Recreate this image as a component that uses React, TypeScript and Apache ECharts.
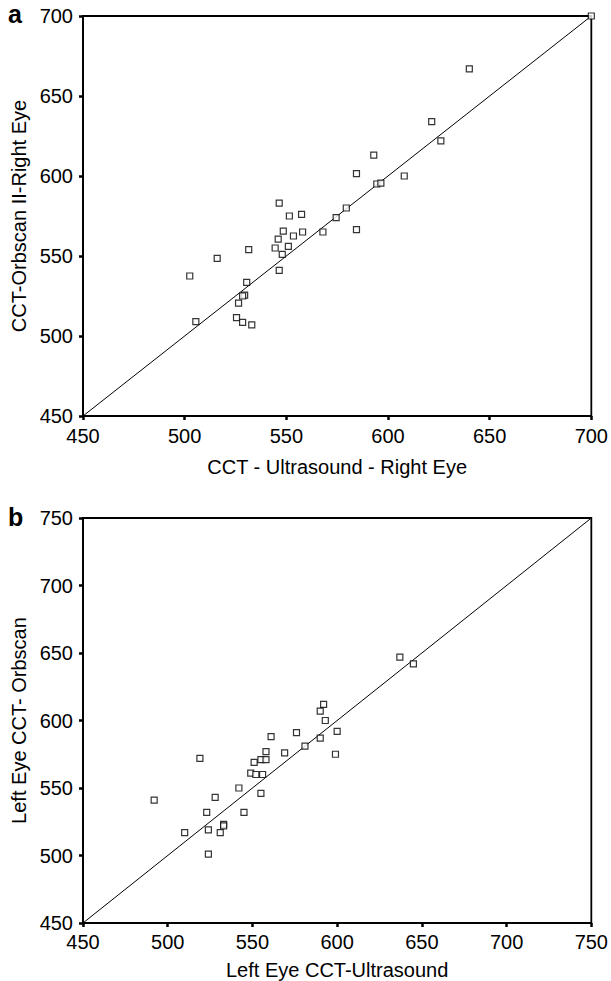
import React, { useEffect, useRef } from "react";
import * as echarts from "echarts";

// Panel a: right eye (ultrasound CCT, Orbscan II CCT)
const rightUltrasound = [700, 640, 621.5, 626, 593, 584.5, 608, 594.5, 596.5, 546.5, 551.5, 557.5, 579.5, 574.5, 548.5, 558, 568, 584.5, 546, 553.5, 544.5, 551, 531.5, 548, 546.5, 530.5, 529.5, 528.5, 526.5, 502.5, 505.5, 525.5, 528.5, 533, 516];
const rightOrbscan = [700, 667, 634, 622, 613, 601.5, 600, 595, 595.5, 583, 575, 576, 580, 574, 565.5, 565, 565, 566.5, 560.5, 562.5, 555, 556, 554, 551, 541, 533.5, 525.5, 525, 520.5, 537.5, 509, 511.5, 508.5, 507, 548.5];

// Panel b: left eye (ultrasound CCT, Orbscan CCT)
const leftUltrasound = [637, 645, 592, 590, 593, 600, 576, 561, 590, 581, 599, 569, 558, 519, 551, 555, 558, 549, 552, 556, 542, 555, 528, 492, 523, 545, 533, 533, 510, 524, 531, 524];
const leftOrbscan = [647, 642, 612, 607, 600, 592, 591, 588, 587, 581, 575, 576, 577, 572, 569, 571, 571, 561, 560, 560, 550, 546, 543, 541, 532, 532, 523, 522, 517, 519, 517, 501];

const ticksA = [450, 500, 550, 600, 650, 700];
const ticksB = [450, 500, 550, 600, 650, 700, 750];

const FONT = "Liberation Sans, Arial, sans-serif";
const FS = 20;

export default function App() {
  const ref = useRef<HTMLDivElement>(null);
  useEffect(() => {
    if (!ref.current) return;
    const chart = echarts.init(ref.current, null, { renderer: "svg" });
    const axisCommon = (min: number, max: number, margin: number) => ({
      type: "value" as const,
      min,
      max,
      interval: 50,
      splitLine: { show: false },
      axisLine: { show: true, lineStyle: { color: "#000", width: 1.8 } },
      axisTick: { show: true, length: 4, lineStyle: { color: "#000", width: 2.5 } },
      axisLabel: { color: "#000", fontSize: FS, fontFamily: FONT, margin },
      nameLocation: "middle" as const,
      nameTextStyle: { color: "#000", fontSize: FS, fontFamily: FONT },
    });
    const scatterStyle = {
      type: "scatter" as const,
      symbol: "rect",
      symbolSize: 6,
      itemStyle: { color: "#fff", borderColor: "#000", borderWidth: 1.2 },
      z: 3,
    };
    chart.setOption({
      animation: false,
      backgroundColor: "#fff",
      grid: [
        { left: 83, top: 16, width: 509, height: 400, show: true, borderColor: "#000", borderWidth: 1.8, backgroundColor: "transparent" },
        { left: 83, top: 518, width: 509, height: 405, show: true, borderColor: "#000", borderWidth: 1.8, backgroundColor: "transparent" },
      ],
      xAxis: [
        { ...axisCommon(ticksA[0], ticksA[ticksA.length - 1], 10), gridIndex: 0, name: "CCT - Ultrasound - Right Eye", nameGap: 41 },
        { ...axisCommon(ticksB[0], ticksB[ticksB.length - 1], 9), gridIndex: 1, name: "Left Eye CCT-Ultrasound", nameGap: 37 },
      ],
      yAxis: [
        { ...axisCommon(ticksA[0], ticksA[ticksA.length - 1], 10), gridIndex: 0, name: "CCT-Orbscan II-Right Eye", nameGap: 51 },
        { ...axisCommon(ticksB[0], ticksB[ticksB.length - 1], 10), gridIndex: 1, name: "Left Eye CCT- Orbscan", nameGap: 51 },
      ],
      graphic: [
        { type: "text", x: 8, y: 14, style: { text: "a", font: `bold 25px ${FONT}`, fill: "#000", verticalAlign: "middle" } },
        { type: "text", x: 8, y: 517, style: { text: "b", font: `bold 25px ${FONT}`, fill: "#000", verticalAlign: "middle" } },
      ],
      series: [
        {
          type: "line",
          xAxisIndex: 0,
          yAxisIndex: 0,
          data: [[ticksA[0], ticksA[0]], [ticksA[ticksA.length - 1], ticksA[ticksA.length - 1]]],
          symbol: "none",
          lineStyle: { color: "#000", width: 1 },
          z: 2,
        },
        {
          ...scatterStyle,
          xAxisIndex: 0,
          yAxisIndex: 0,
          data: rightUltrasound.map((x, i) => [x, rightOrbscan[i]]),
        },
        {
          type: "line",
          xAxisIndex: 1,
          yAxisIndex: 1,
          data: [[ticksB[0], ticksB[0]], [ticksB[ticksB.length - 1], ticksB[ticksB.length - 1]]],
          symbol: "none",
          lineStyle: { color: "#000", width: 1 },
          z: 2,
        },
        {
          ...scatterStyle,
          xAxisIndex: 1,
          yAxisIndex: 1,
          data: leftUltrasound.map((x, i) => [x, leftOrbscan[i]]),
        },
      ],
    });
    return () => chart.dispose();
  }, []);
  return <div ref={ref} style={{ width: 611, height: 981, position: "absolute", left: 0, top: 0 }} />;
}
